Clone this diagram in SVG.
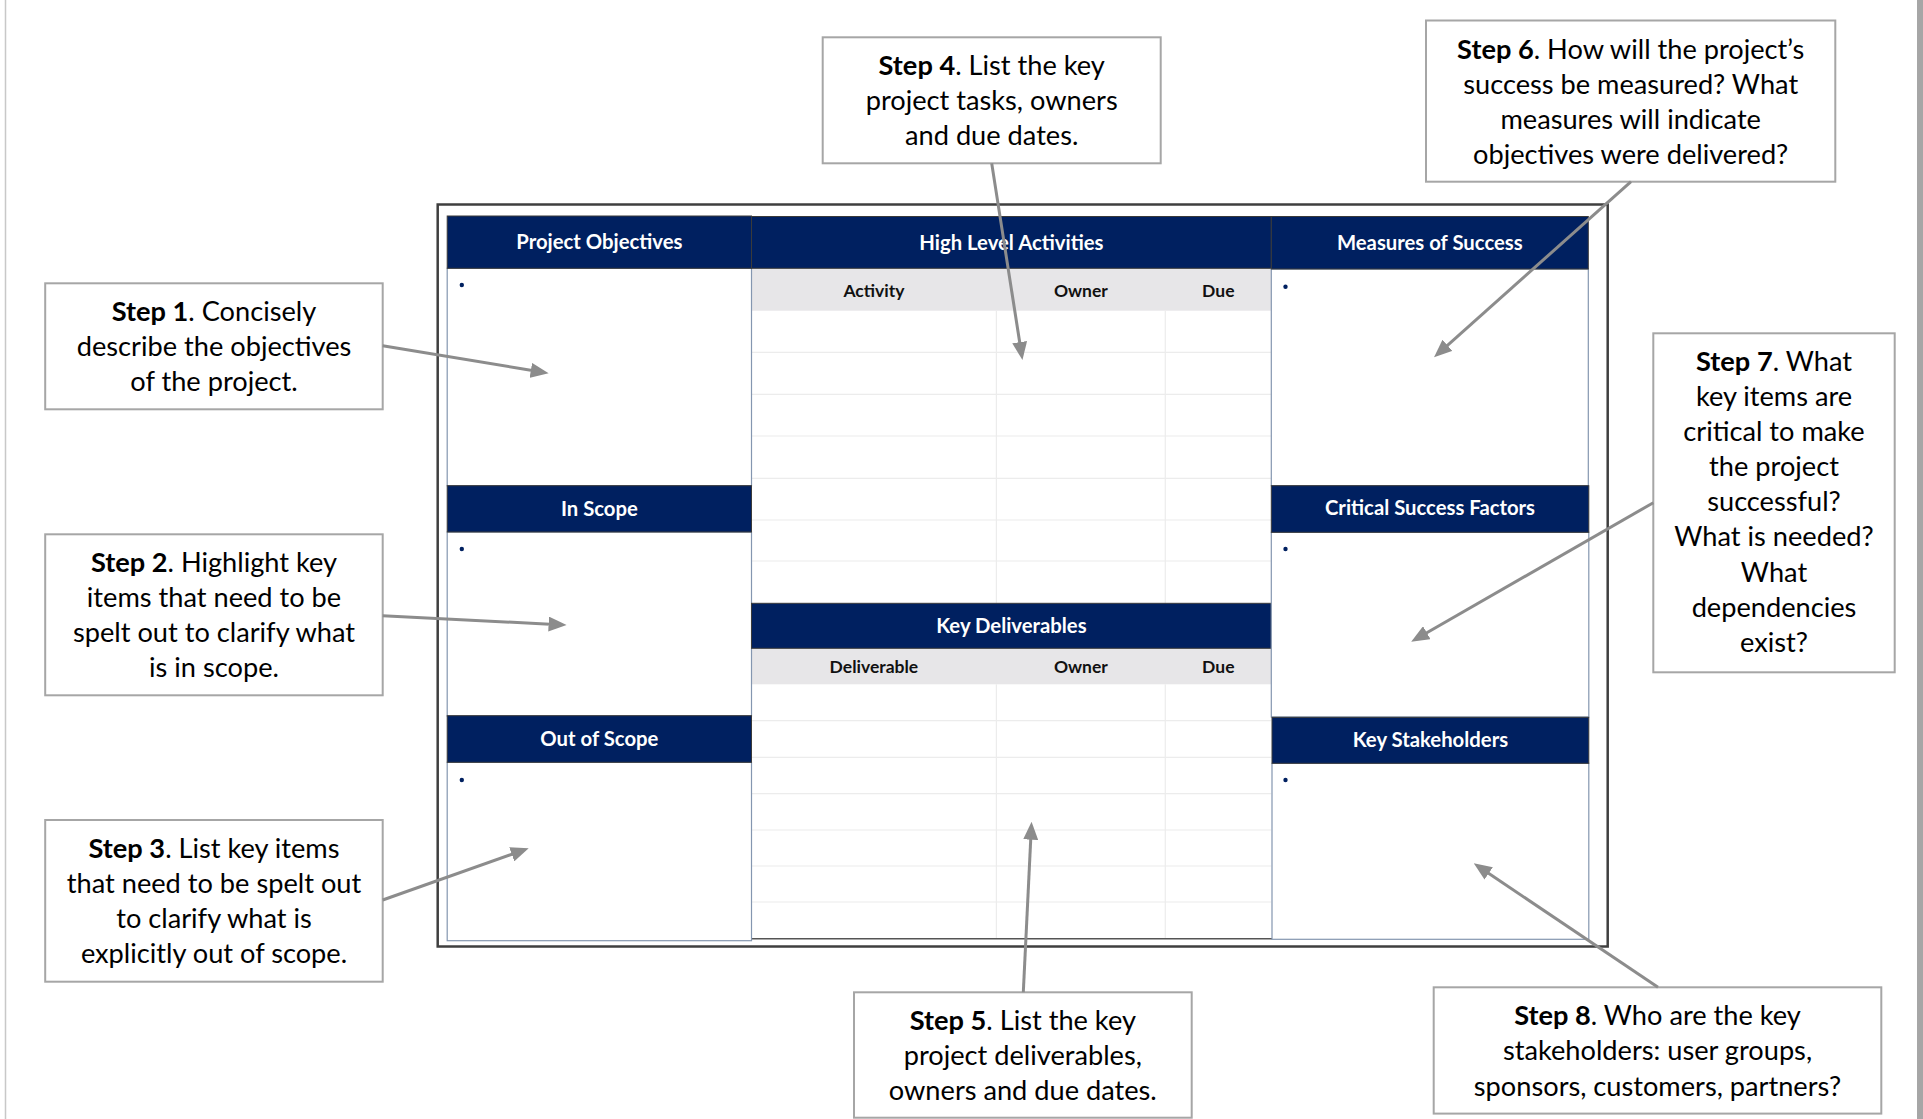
<svg xmlns="http://www.w3.org/2000/svg" width="1923" height="1119" viewBox="0 0 1923 1119">
  <defs>
    <marker id="ah" markerWidth="18" markerHeight="15" refX="6" refY="7.5" orient="auto" markerUnits="userSpaceOnUse">
      <path d="M0,0 L18,7.5 L0,15 z" fill="#8c8c8c"/>
    </marker>
    <style>
      .hdr { fill: #002060; stroke: #3a3a3a; stroke-width: 1; }
      .hdrt { font-family: Lato, "Liberation Sans", sans-serif; font-weight: bold; font-size: 20.3px; fill: #ffffff; text-anchor: middle; }
      .body { fill: #ffffff; stroke: #8496b0; stroke-width: 1.2; }
      .band { fill: #e7e6e8; }
      .colt { font-family: Lato, "Liberation Sans", sans-serif; font-weight: bold; font-size: 17.5px; fill: #111111; text-anchor: middle; }
      .grid { stroke: #ececec; stroke-width: 1.2; }
      .dot { fill: #002060; }
      .step { fill: #ffffff; stroke: #a6a6a6; stroke-width: 2; }
      .stept { font-family: Lato, "Liberation Sans", sans-serif; font-size: 27.2px; fill: #000000; text-anchor: middle; }
      .stept tspan.b { font-weight: bold; }
      .conn { stroke: #8c8c8c; stroke-width: 3; fill: none; marker-end: url(#ah); }
    </style>
  </defs>

  <rect x="0" y="0" width="1923" height="1119" fill="#ffffff"/>
  <!-- page edges -->
  <line x1="5.5" y1="0" x2="5.5" y2="1119" stroke="#c8c8c8" stroke-width="1.5"/>
  <rect x="1917" y="0" width="6" height="1119" fill="#a6a6a6"/>

  <!-- outer frame of the charter -->
  <rect x="437.7" y="204.5" width="1170" height="742" fill="#ffffff" stroke="#3f3f3f" stroke-width="2.5"/>

  <!-- middle tables -->
  <g id="activities-table">
    <rect x="751.5" y="268.3" width="519.8" height="42.4" class="band"/>
    <g class="grid">
      <line x1="751.5" y1="352.3" x2="1271.3" y2="352.3"/>
      <line x1="751.5" y1="394.3" x2="1271.3" y2="394.3"/>
      <line x1="751.5" y1="436" x2="1271.3" y2="436"/>
      <line x1="751.5" y1="478.3" x2="1271.3" y2="478.3"/>
      <line x1="751.5" y1="520" x2="1271.3" y2="520"/>
      <line x1="751.5" y1="561" x2="1271.3" y2="561"/>
      <line x1="996.4" y1="310.7" x2="996.4" y2="603.3"/>
      <line x1="1165.3" y1="310.7" x2="1165.3" y2="603.3"/>
    </g>
    <text x="873.9" y="296.5" class="colt">Activity</text>
    <text x="1080.9" y="296.5" class="colt">Owner</text>
    <text x="1218.3" y="296.5" class="colt">Due</text>
  </g>

  <g id="deliverables-table">
    <rect x="751.5" y="648.3" width="519.8" height="36" class="band"/>
    <g class="grid">
      <line x1="751.5" y1="720.7" x2="1271.3" y2="720.7"/>
      <line x1="751.5" y1="757.3" x2="1271.3" y2="757.3"/>
      <line x1="751.5" y1="793.7" x2="1271.3" y2="793.7"/>
      <line x1="751.5" y1="830" x2="1271.3" y2="830"/>
      <line x1="751.5" y1="866" x2="1271.3" y2="866"/>
      <line x1="751.5" y1="902" x2="1271.3" y2="902"/>
      <line x1="996.4" y1="684.3" x2="996.4" y2="938.7"/>
      <line x1="1165.3" y1="684.3" x2="1165.3" y2="938.7"/>
    </g>
    <line x1="751.5" y1="938.7" x2="1272" y2="938.7" stroke="#555555" stroke-width="1.5"/>
    <text x="873.9" y="673.3" class="colt">Deliverable</text>
    <text x="1080.9" y="673.3" class="colt">Owner</text>
    <text x="1218.3" y="673.3" class="colt">Due</text>
  </g>

  <!-- left column sections -->
  <g id="project-objectives">
    <rect x="447.2" y="268.3" width="304.3" height="217.4" class="body"/>
    <rect x="447.2" y="216" width="304.3" height="52.3" class="hdr"/>
    <text x="599.4" y="249" class="hdrt">Project Objectives</text>
    <circle cx="461.8" cy="285" r="2.2" class="dot"/>
  </g>
  <g id="in-scope">
    <rect x="447.2" y="532" width="304.3" height="184" class="body"/>
    <rect x="447.2" y="485.7" width="304.3" height="46.3" class="hdr"/>
    <text x="599.4" y="515.5" class="hdrt">In Scope</text>
    <circle cx="461.8" cy="549" r="2.2" class="dot"/>
  </g>
  <g id="out-of-scope">
    <rect x="447.2" y="762.3" width="304.3" height="178.4" class="body"/>
    <rect x="447.2" y="715.7" width="304.3" height="46.6" class="hdr"/>
    <text x="599.4" y="746" class="hdrt">Out of Scope</text>
    <circle cx="461.8" cy="780" r="2.2" class="dot"/>
  </g>

  <!-- middle headers -->
  <g id="high-level-activities">
    <rect x="751.5" y="216.5" width="519.8" height="51.8" class="hdr"/>
    <text x="1011.4" y="249.5" class="hdrt">High Level Activities</text>
  </g>
  <g id="key-deliverables">
    <rect x="751.5" y="603.3" width="519.8" height="45" class="hdr"/>
    <text x="1011.4" y="632.5" class="hdrt">Key Deliverables</text>
  </g>

  <!-- right column sections -->
  <g id="measures-of-success">
    <rect x="1271.3" y="269" width="317" height="216.7" class="body"/>
    <rect x="1271.3" y="216.5" width="317" height="52.5" class="hdr"/>
    <text x="1429.8" y="249.5" class="hdrt">Measures of Success</text>
    <circle cx="1285.5" cy="286.7" r="2.2" class="dot"/>
  </g>
  <g id="critical-success-factors">
    <rect x="1271.3" y="532.3" width="317.5" height="184.7" class="body"/>
    <rect x="1271.3" y="485.7" width="317.5" height="46.6" class="hdr"/>
    <text x="1430" y="515" class="hdrt">Critical Success Factors</text>
    <circle cx="1285.5" cy="549" r="2.2" class="dot"/>
  </g>
  <g id="key-stakeholders">
    <rect x="1272" y="763.3" width="316.8" height="176" class="body"/>
    <rect x="1272" y="717.3" width="316.8" height="46" class="hdr"/>
    <text x="1430.4" y="747" class="hdrt">Key Stakeholders</text>
    <circle cx="1285.5" cy="780" r="2.2" class="dot"/>
  </g>

  <!-- step callouts -->
  <g id="step1">
    <rect x="45.2" y="283.3" width="337.5" height="126" class="step"/>
    <text class="stept"><tspan x="214" y="320.5"><tspan class="b">Step 1</tspan>. Concisely</tspan><tspan x="214" y="355.5">describe the objectives</tspan><tspan x="214" y="390.5">of the project.</tspan></text>
  </g>
  <g id="step2">
    <rect x="45.2" y="534.3" width="337.5" height="161" class="step"/>
    <text class="stept"><tspan x="214" y="571.5"><tspan class="b">Step 2</tspan>. Highlight key</tspan><tspan x="214" y="606.5">items that need to be</tspan><tspan x="214" y="641.5">spelt out to clarify what</tspan><tspan x="214" y="676.5">is in scope.</tspan></text>
  </g>
  <g id="step3">
    <rect x="45.2" y="820" width="337.5" height="161.7" class="step"/>
    <text class="stept"><tspan x="214" y="857.5"><tspan class="b">Step 3</tspan>. List key items</tspan><tspan x="214" y="892.5">that need to be spelt out</tspan><tspan x="214" y="927.5">to clarify what is</tspan><tspan x="214" y="962.5">explicitly out of scope.</tspan></text>
  </g>
  <g id="step4">
    <rect x="822.7" y="37.3" width="338" height="126" class="step"/>
    <text class="stept"><tspan x="991.7" y="75"><tspan class="b">Step 4</tspan>. List the key</tspan><tspan x="991.7" y="109.5">project tasks, owners</tspan><tspan x="991.7" y="144.5">and due dates.</tspan></text>
  </g>
  <g id="step5">
    <rect x="854" y="992.3" width="337.7" height="125.4" class="step"/>
    <text class="stept"><tspan x="1022.8" y="1030"><tspan class="b">Step 5</tspan>. List the key</tspan><tspan x="1022.8" y="1065">project deliverables,</tspan><tspan x="1022.8" y="1100">owners and due dates.</tspan></text>
  </g>
  <g id="step6">
    <rect x="1426" y="20.5" width="409.3" height="161.2" class="step"/>
    <text class="stept"><tspan x="1630.7" y="58.5"><tspan class="b">Step 6</tspan>. How will the project’s</tspan><tspan x="1630.7" y="93.5">success be measured? What</tspan><tspan x="1630.7" y="128.5">measures will indicate</tspan><tspan x="1630.7" y="163.5">objectives were delivered?</tspan></text>
  </g>
  <g id="step7">
    <rect x="1653.3" y="333.3" width="241.4" height="339" class="step"/>
    <text class="stept"><tspan x="1774" y="370.5"><tspan class="b">Step 7</tspan>. What</tspan><tspan x="1774" y="405.5">key items are</tspan><tspan x="1774" y="440.5">critical to make</tspan><tspan x="1774" y="476">the project</tspan><tspan x="1774" y="510.5">successful?</tspan><tspan x="1774" y="546">What is needed?</tspan><tspan x="1774" y="581.5">What</tspan><tspan x="1774" y="616.5">dependencies</tspan><tspan x="1774" y="651.5">exist?</tspan></text>
  </g>
  <g id="step8">
    <rect x="1433.7" y="987.3" width="447.6" height="126.3" class="step"/>
    <text class="stept"><tspan x="1657.5" y="1024.5"><tspan class="b">Step 8</tspan>. Who are the key</tspan><tspan x="1657.5" y="1060">stakeholders: user groups,</tspan><tspan x="1657.5" y="1095.5">sponsors, customers, partners?</tspan></text>
  </g>

  <!-- connectors from callouts into the charter -->
  <g id="connectors">
    <line class="conn" x1="382.7" y1="345.7" x2="536.8" y2="371.3"/>
    <line class="conn" x1="382.7" y1="615.7" x2="554.6" y2="624.4"/>
    <line class="conn" x1="382.7" y1="900" x2="517.4" y2="852.3"/>
    <line class="conn" x1="991.7" y1="163.3" x2="1020.6" y2="348.1"/>
    <line class="conn" x1="1023.3" y1="992.3" x2="1031" y2="833.7"/>
    <line class="conn" x1="1631" y1="181.7" x2="1443" y2="349.3"/>
    <line class="conn" x1="1653.3" y1="502.7" x2="1421.6" y2="635.7"/>
    <line class="conn" x1="1658" y1="987.3" x2="1483.7" y2="870"/>
  </g>
</svg>
